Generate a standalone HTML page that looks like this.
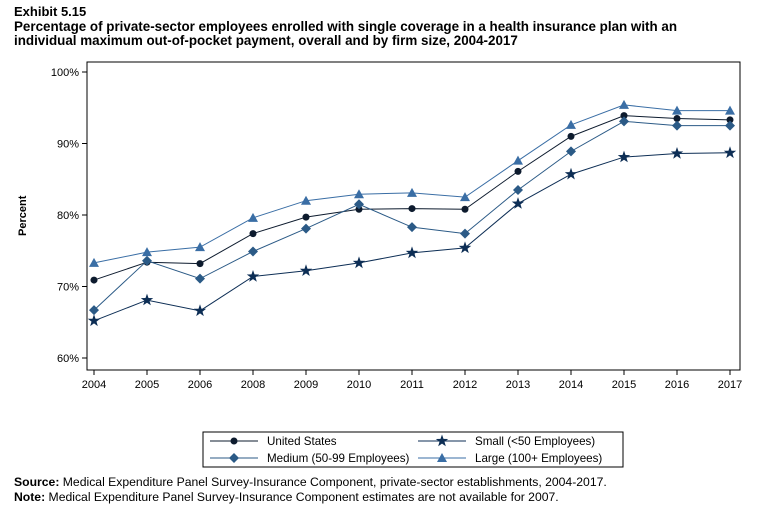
<!DOCTYPE html>
<html><head><meta charset="utf-8"><style>
body{margin:0;background:#fff;font-family:"Liberation Sans",Arial,sans-serif;}
#wrap{position:relative;width:758px;height:518px;overflow:hidden;}
</style></head><body>
<div id="wrap">
<svg id="chart" width="758" height="518" xmlns="http://www.w3.org/2000/svg" font-family="Liberation Sans, Arial, sans-serif">
<text x="14" y="16" font-size="13" font-weight="bold">Exhibit 5.15</text>
<text x="14" y="31" font-size="13.4" font-weight="bold">Percentage of private-sector employees enrolled with single coverage in a health insurance plan with an</text>
<text x="14" y="45" font-size="13.4" font-weight="bold">individual maximum out-of-pocket payment, overall and by firm size, 2004-2017</text>
<rect x="87" y="62" width="653" height="308" fill="none" stroke="#000" stroke-width="1"/>
<text x="0" y="0" font-size="11" font-weight="bold" transform="translate(26,236) rotate(-90)">Percent</text>
<g id="axes"></g>
<g id="series"></g>
<rect x="203" y="432" width="420" height="35" fill="none" stroke="#000"/>
<g id="legend"></g>
<text x="14" y="486" font-size="12.2"><tspan font-weight="bold">Source:</tspan> Medical Expenditure Panel Survey-Insurance Component, private-sector establishments, 2004-2017.</text>
<text x="14" y="501" font-size="12.2"><tspan font-weight="bold">Note:</tspan> Medical Expenditure Panel Survey-Insurance Component estimates are not available for 2007.</text>
</svg>
</div>
<script>
const years=["2004","2005","2006","2008","2009","2010","2011","2012","2013","2014","2015","2016","2017"];
const yTicks=[60,70,80,90,100];
const usValues=[70.9,73.4,73.2,77.4,79.7,80.8,80.9,80.8,86.1,91.0,93.9,93.5,93.3];
const smallValues=[65.2,68.1,66.6,71.4,72.2,73.3,74.7,75.4,81.6,85.7,88.1,88.6,88.7];
const mediumValues=[66.7,73.6,71.1,74.9,78.1,81.5,78.3,77.4,83.5,88.9,93.1,92.5,92.5];
const largeValues=[73.3,74.8,75.5,79.6,82.0,82.9,83.1,82.5,87.6,92.6,95.4,94.6,94.6];
const NS="http://www.w3.org/2000/svg";
const x=i=>94+i*(730-94)/(years.length-1);
const y=v=>358-(v-60)*(358-72)/40;
function mk(t,a,p){const e=document.createElementNS(NS,t);for(const k in a)e.setAttribute(k,a[k]);p.appendChild(e);return e;}
const axes=document.getElementById('axes');
yTicks.forEach(t=>{
 const l=mk('line',{x1:82,x2:87,y1:y(t),y2:y(t),stroke:'#000'},axes);
 
 
 const tx=mk('text',{x:79,y:y(t)+4,'font-size':11,'text-anchor':'end'},axes);tx.textContent=t+'%';
 
 
});
years.forEach((yr,i)=>{
 const l=mk('line',{x1:x(i),x2:x(i),y1:370,y2:375,stroke:'#000'},axes);
 
 
 const tx=mk('text',{x:x(i),y:388,'font-size':11,'text-anchor':'middle'},axes);tx.textContent=yr;
 
 
});
function marker(type,cx,cy,col,p){
 let e;
 if(type==='circle')e=mk('circle',{cx,cy,r:3.5,fill:col},p);
 else if(type==='diamond')e=mk('polygon',{points:`${cx},${cy-5} ${cx+5},${cy} ${cx},${cy+5} ${cx-5},${cy}`,fill:col},p);
 else if(type==='triangle')e=mk('polygon',{points:`${cx},${cy-5} ${cx+5},${cy+4} ${cx-5},${cy+4}`,fill:col},p);
 else{let pts=[];for(let k=0;k<10;k++){const r=k%2?2.6:6.5;const a=-Math.PI/2+k*Math.PI/5;pts.push((cx+r*Math.cos(a)).toFixed(1)+','+(cy+r*Math.sin(a)).toFixed(1));}
  e=mk('polygon',{points:pts.join(' '),fill:col},p);}
 return e;
}
const series=[
 {name:'us',label:'United States',vals:usValues,col:'#0d1b2e',m:'circle',lx:210,ly:441},
 {name:'small',label:'Small (<50 Employees)',vals:smallValues,col:'#0d2e55',m:'star',lx:418,ly:441},
 {name:'medium',label:'Medium (50-99 Employees)',vals:mediumValues,col:'#2b5a86',m:'diamond',lx:210,ly:458},
 {name:'large',label:'Large (100+ Employees)',vals:largeValues,col:'#3a6ea5',m:'triangle',lx:418,ly:458}
];
const sg=document.getElementById('series'),lg=document.getElementById('legend');
series.forEach(s=>{
 const g=mk('g',{},sg);
 
 
 const pl=mk('polyline',{points:s.vals.map((v,i)=>x(i)+','+y(v)).join(' '),fill:'none',stroke:s.col,'stroke-width':1},g);
 
 
 s.vals.forEach((v,i)=>{const m=marker(s.m,x(i),y(v),s.col,g);
  
  });
 const le=mk('g',{},lg);
 
 
 mk('line',{x1:s.lx,x2:s.lx+48,y1:s.ly,y2:s.ly,stroke:s.col},le);
 marker(s.m,s.lx+24,s.ly,s.col,le);
 const t=mk('text',{x:s.lx+57,y:s.ly+4,'font-size':11.6},le);t.textContent=s.label;
});
</script>
</body></html>
